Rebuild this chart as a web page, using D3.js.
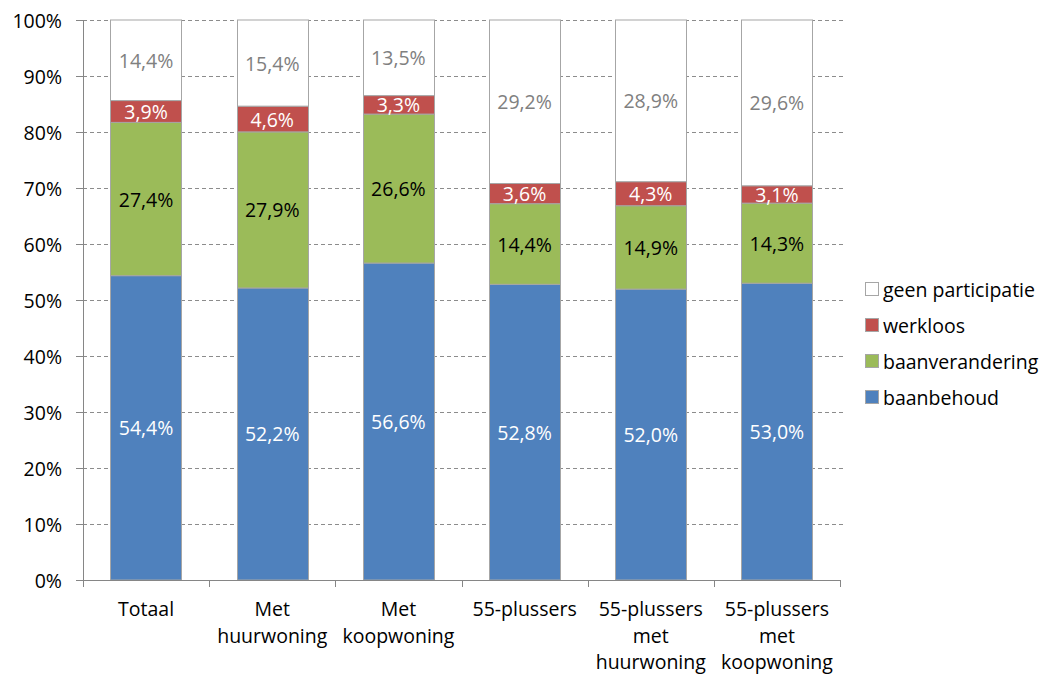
<!DOCTYPE html>
<html><head><meta charset="utf-8">
<script src="https://cdn.jsdelivr.net/npm/d3@7"></script>
<style>body{margin:0;background:#fff;} svg{display:block;font-family:"Open Sans",sans-serif;}</style>
</head><body>
<svg id="c" width="1041" height="677"></svg>
<script>
const categories = [["Totaal"],["Met","huurwoning"],["Met","koopwoning"],["55-plussers"],["55-plussers","met","huurwoning"],["55-plussers","met","koopwoning"]];
const seriesNames = ["baanbehoud","baanverandering","werkloos","geen participatie"];
const baanbehoud = [54.4,52.2,56.6,52.8,52.0,53.0];
const baanverandering = [27.4,27.9,26.6,14.4,14.9,14.3];
const werkloos = [3.9,4.6,3.3,3.6,4.3,3.1];
const geenParticipatie = [14.4,15.4,13.5,29.2,28.9,29.6];
const yTicks = [0,0.1,0.2,0.3,0.4,0.5,0.6,0.7,0.8,0.9,1.0];
const colors = ["#4F81BD","#9BBB59","#C0504D","#FFFFFF"];
const labelColors = ["#FFFFFF","#000000","#FFFFFF","#808080"];

const FS = 19.5;
const svg = d3.select("#c");
const L=83,R=840,T=20,B=580;
const idx = d3.range(categories.length);
const x = d3.scaleBand().domain(idx).range([L,R]).paddingInner(0.434).paddingOuter(0.217);
const y = d3.scaleLinear().domain([0,1]).range([B,T]);
const fmt = v => d3.format(".1f")(v).replace(".",",")+"%";

// grid
svg.append("g").selectAll("line").data(yTicks.filter(t=>t>0)).join("line")
  .attr("x1",L).attr("x2",R+6).attr("y1",d=>Math.round(y(d))+0.5).attr("y2",d=>Math.round(y(d))+0.5)
  .attr("stroke","#8c8c8c").attr("stroke-dasharray","4,3");

const rows = idx.map(i=>({i, vals:[baanbehoud[i],baanverandering[i],werkloos[i],geenParticipatie[i]]}));
const stackData = rows.map(r=>{const s=d3.sum(r.vals); const o={i:r.i}; seriesNames.forEach((n,k)=>o[n]=r.vals[k]/s); o.raw=r.vals; return o;});
const stack = d3.stack().keys(seriesNames)(stackData);

const g = svg.append("g");
stack.forEach((layer,k)=>{
  g.append("g").selectAll("rect").data(layer).join("rect")
    .attr("x",d=>Math.round(x(d.data.i))+0.5).attr("width",Math.round(x.bandwidth()))
    .attr("y",d=>y(d[1])).attr("height",d=>y(d[0])-y(d[1]))
    .attr("fill",colors[k]).attr("stroke","#a6a6a6").attr("stroke-width",1);
});
stack.forEach((layer,k)=>{
  g.append("g").selectAll("text").data(layer).join("text")
    .attr("x",d=>x(d.data.i)+x.bandwidth()/2).attr("y",d=>(y(d[0])+y(d[1]))/2)
    .attr("text-anchor","middle").attr("dominant-baseline","central")
    .attr("font-size",FS).attr("fill",labelColors[k])
    .text(d=>fmt(d.data.raw[k]));
});

// axes
const ax = svg.append("g").attr("stroke","#868686");
ax.append("line").attr("x1",L+0.5).attr("x2",L+0.5).attr("y1",T).attr("y2",B+0.5);
ax.append("line").attr("x1",L).attr("x2",R+0.5).attr("y1",B+0.5).attr("y2",B+0.5);
ax.selectAll(".yt").data(yTicks).join("line").attr("x1",L-7).attr("x2",L)
  .attr("y1",d=>Math.round(y(d))+0.5).attr("y2",d=>Math.round(y(d))+0.5);
const xt = d3.range(categories.length+1).map(j=>L+j*(R-L)/categories.length);
ax.selectAll(".xt").data(xt).join("line").attr("x1",d=>Math.round(d)+0.5).attr("x2",d=>Math.round(d)+0.5)
  .attr("y1",B).attr("y2",B+7);

svg.append("g").selectAll("text").data(yTicks).join("text")
  .attr("x",62).attr("y",d=>y(d)).attr("text-anchor","end").attr("dominant-baseline","central")
  .attr("font-size",FS).attr("fill","#000").text(d=>Math.round(d*100)+"%");

const xl = svg.append("g").selectAll("text").data(idx).join("text")
  .attr("x",i=>x(i)+x.bandwidth()/2).attr("text-anchor","middle").attr("font-size",FS).attr("fill","#000");
xl.each(function(i){
  d3.select(this).selectAll("tspan").data(categories[i]).join("tspan")
    .attr("x",x(i)+x.bandwidth()/2).attr("y",(d,j)=>616+j*26.5).text(d=>d);
});

// legend
const legOrder = [3,2,1,0];
const lg = svg.append("g").selectAll("g").data(legOrder).join("g")
  .attr("transform",(k,j)=>`translate(865,${289+j*36})`);
lg.append("rect").attr("x",0.5).attr("y",-6.5).attr("width",13).attr("height",13)
  .attr("fill",k=>colors[k]).attr("stroke","#a6a6a6");
lg.append("text").attr("x",18).attr("y",0).attr("dominant-baseline","central")
  .attr("font-size",FS).attr("fill","#000").text(k=>seriesNames[k]);
</script>
</body></html>
